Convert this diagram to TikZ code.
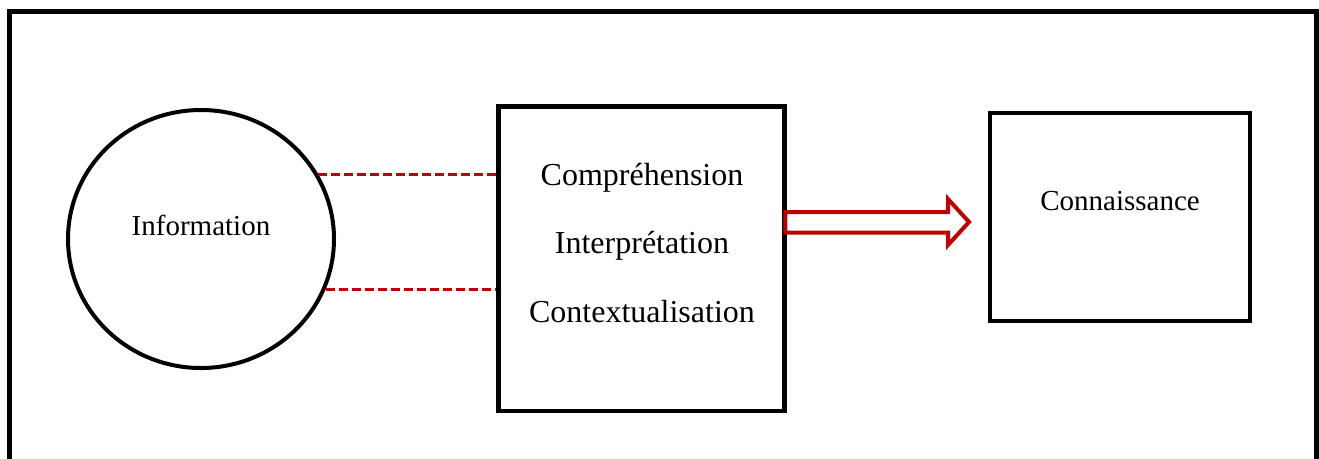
\documentclass[tikz,border=0pt]{standalone}
\usepackage{fontspec}
\setmainfont{Liberation Serif}
\usetikzlibrary{shapes.geometric,calc}
\definecolor{darkred}{HTML}{C00000}
\begin{document}
\begin{tikzpicture}[x=0.75pt,y=-0.75pt,
  frame/.style={draw=black,line width=3.75pt},
  boxnode/.style={draw=black,line width=3.5pt,rectangle,inner sep=0pt},
  circnode/.style={draw=black,line width=3pt,ellipse,inner sep=0pt,
    minimum width=199.5pt,minimum height=193.5pt},
  bigtext/.style={font=\fontsize{24pt}{28pt}\selectfont,anchor=base,inner sep=0pt},
  smalltext/.style={font=\fontsize{21.75pt}{26pt}\selectfont,anchor=base,inner sep=0pt},
  link/.style={draw=darkred,line width=2.25pt,dash pattern=on 6.75pt off 3pt},
  blockarrow/.style={draw=darkred,fill=white,line width=3pt,line join=miter}]
  \useasboundingbox (0,0) rectangle (1319,458);
  \clip (0,0) rectangle (1319,458);
  % outer frame (runs past the lower edge)
  \draw[frame] (9.5,11.5) rectangle (1316,490);
  % main shapes
  \node[circnode] (info) at (201,239) {};
  \node[boxnode,minimum width=214.5pt,minimum height=228.4pt] (proc) at (641.5,258.75) {};
  \node[boxnode,minimum width=195pt,minimum height=156pt] (know) at (1120,217) {};
  % labels
  \node[smalltext] (tinfo) at (201,235) {Information};
  \node[bigtext] (t1) at (642,185.5) {Compréhension};
  \node[bigtext] (t2) at (642,253.5) {Interprétation};
  \node[bigtext] (t3) at (642,322.5) {Contextualisation};
  \node[smalltext] (tknow) at (1120,210.7) {Connaissance};
  % dashed links from the circle to the process box
  \draw[link] (info.29.5) -- (info.29.5 -| proc.west);
  \draw[link] (info.-22.5) -- (info.-22.5 -| proc.west);
  % hollow block arrow towards the knowledge box
  \coordinate (atail) at (proc.east |- 0,222);
  \coordinate (atip) at (969,222);
  \draw[blockarrow] ($(atail)+(-1.5,-10)$) -- (948,212) -- (948,199) -- (atip)
    -- (948,245) -- (948,232.5) -- ($(atail)+(-1.5,10.5)$) -- cycle;
\end{tikzpicture}
\end{document}
